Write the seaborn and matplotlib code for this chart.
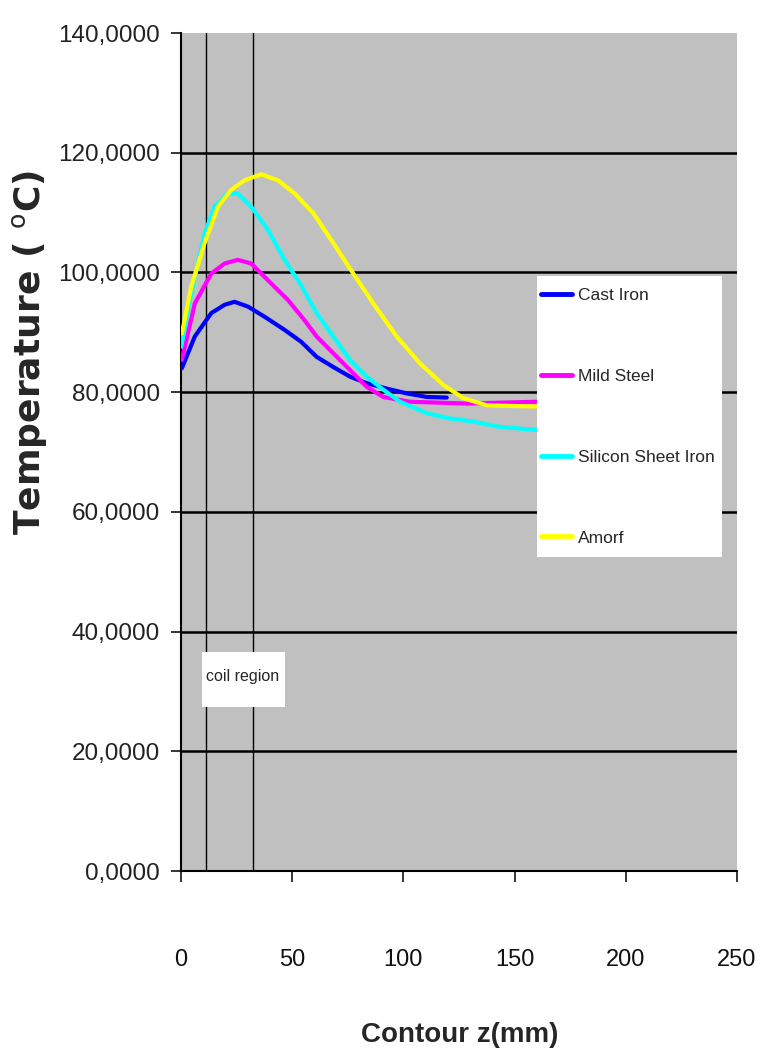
import numpy as np
import pandas as pd
import matplotlib
matplotlib.use("Agg")
import matplotlib.pyplot as plt
from matplotlib.patches import Rectangle
import seaborn as sns

# ---- data ----
materials = ["Cast Iron", "Mild Steel", "Silicon Sheet Iron", "Amorf"]
colors = ["#0000FF", "#FF00FF", "#00FFFF", "#FFFF00"]

cast_x = [0.4, 6.2, 13.6, 19.6, 24.1, 30.1, 37.6, 46.6, 54.1, 61, 68.5, 76, 83.5, 92.5, 101.5, 110.5, 119.5]
cast_y = [84.0, 89.3, 93.2, 94.6, 95.1, 94.3, 92.6, 90.4, 88.4, 85.9, 84.2, 82.6, 81.5, 80.6, 79.8, 79.2, 79.1]

mild_x = [0.4, 6.2, 13.6, 19.6, 25.6, 31.6, 39.1, 48.1, 55.6, 61, 68.5, 76, 83.5, 91, 103, 128.5, 160]
mild_y = [85.4, 94.8, 99.8, 101.5, 102.1, 101.5, 98.7, 95.4, 92.0, 89.3, 86.5, 83.7, 80.9, 79.2, 78.4, 78.1, 78.4]

sil_x = [0.1, 4.6, 10.6, 15.1, 21.1, 25.6, 31.6, 39.1, 46.6, 54.1, 61, 68.5, 76, 83.5, 91, 98.5, 110.5, 121, 131.4, 143.4, 160]
sil_y = [87.6, 96.5, 106.5, 111.0, 113.2, 113.2, 111.0, 107.1, 102.1, 97.8, 93.2, 89.3, 85.4, 82.6, 80.4, 78.4, 76.5, 75.6, 75.1, 74.2, 73.7]

amorf_x = [0.4, 4.6, 10.6, 16.6, 22.6, 28.6, 36.1, 43.6, 51.1, 59.5, 68.5, 77.5, 86.5, 97, 107.5, 118, 127, 137.5, 160]
amorf_y = [89.8, 97.6, 104.9, 111.0, 113.8, 115.4, 116.4, 115.4, 113.2, 109.9, 104.9, 99.8, 94.8, 89.3, 84.8, 81.2, 79.0, 77.8, 77.6]

coil_bounds = [11.2, 32.4]
y_ticks = [0, 20, 40, 60, 80, 100, 120, 140]
y_tick_labels = ["0,0000", "20,0000", "40,0000", "60,0000", "80,0000",
                 "100,0000", "120,0000", "140,0000"]
x_ticks = [0, 50, 100, 150, 200, 250]
x_tick_labels = ["0", "50", "100", "150", "200", "250"]

frames = []
for name, xs, ys in [("Cast Iron", cast_x, cast_y), ("Mild Steel", mild_x, mild_y),
                     ("Silicon Sheet Iron", sil_x, sil_y), ("Amorf", amorf_x, amorf_y)]:
    frames.append(pd.DataFrame({"z": xs, "T": ys, "Material": name}))
df = pd.concat(frames, ignore_index=True)

# ---- styling ----
sns.set_style("white")
arial = ["Liberation Sans", "DejaVu Sans"]
plt.rcParams["font.family"] = arial

fig = plt.figure(figsize=(7.63, 10.62), dpi=100)
ax = fig.add_axes([0.2372, 0.1798, 0.7287, 0.7891])
ax.set_facecolor("#C0C0C0")

for y in y_ticks[1:-1]:
    ax.axhline(y, color="black", lw=1.8, zorder=1)
for xb in coil_bounds:
    ax.axvline(xb, color="black", lw=1.0, zorder=2)

sns.lineplot(data=df, x="z", y="T", hue="Material", hue_order=materials,
             palette=dict(zip(materials, colors)), linewidth=3, ax=ax,
             estimator=None, sort=True, zorder=3)

ax.set_xlim(0, 250)
ax.set_ylim(0, 140)
ax.set_xticks(x_ticks)
ax.set_xticklabels(x_tick_labels, fontsize=17, color="#111111")
ax.set_yticks(y_ticks)
ax.set_yticklabels(y_tick_labels, fontsize=17.5, color="#222222")
ax.tick_params(axis="y", direction="out", length=7, width=1.3, pad=8, left=True)
ax.tick_params(axis="x", direction="out", length=8, width=1.3, pad=48, bottom=True)

for s in ["top", "right"]:
    ax.spines[s].set_visible(False)
for s in ["left", "bottom"]:
    ax.spines[s].set_color("black")
    ax.spines[s].set_linewidth(1.5)

ax.set_xlabel("Contour z(mm)", fontsize=20, fontweight="bold", family=arial)
ax.xaxis.set_label_coords(0.502, -0.196)
ax.xaxis.label.set_va("center")
ax.set_ylabel("Temperature ( $^{\\rm o}$C)", fontsize=26, fontweight="bold",
              family=["DejaVu Sans"])
ax.yaxis.set_label_coords(-0.272, 0.619)
ax.yaxis.label.set_va("center")

# coil region label box
ax.add_patch(Rectangle((0.0378, 0.1957), 0.149, 0.0656, transform=ax.transAxes,
                       facecolor="white", edgecolor="none", zorder=5))
ax.text(0.1115, 0.2327, "coil region", transform=ax.transAxes, fontsize=11.5,
        ha="center", va="center", zorder=6)

# legend background box
ax.add_patch(Rectangle((0.640, 0.375), 0.333, 0.335, transform=ax.transAxes,
                       facecolor="white", edgecolor="none", zorder=6))
leg = ax.legend(title=None, loc="upper left",
                bbox_to_anchor=(0.6475, 0.6957),
                borderaxespad=0, frameon=False, fontsize=12.5,
                labelspacing=3.78, handlelength=1.78, handletextpad=0.35,
                borderpad=0)
for line in leg.get_lines():
    line.set_linewidth(3.5)
leg.set_zorder(7)

fig.savefig("out.png", dpi=100, facecolor="white")
